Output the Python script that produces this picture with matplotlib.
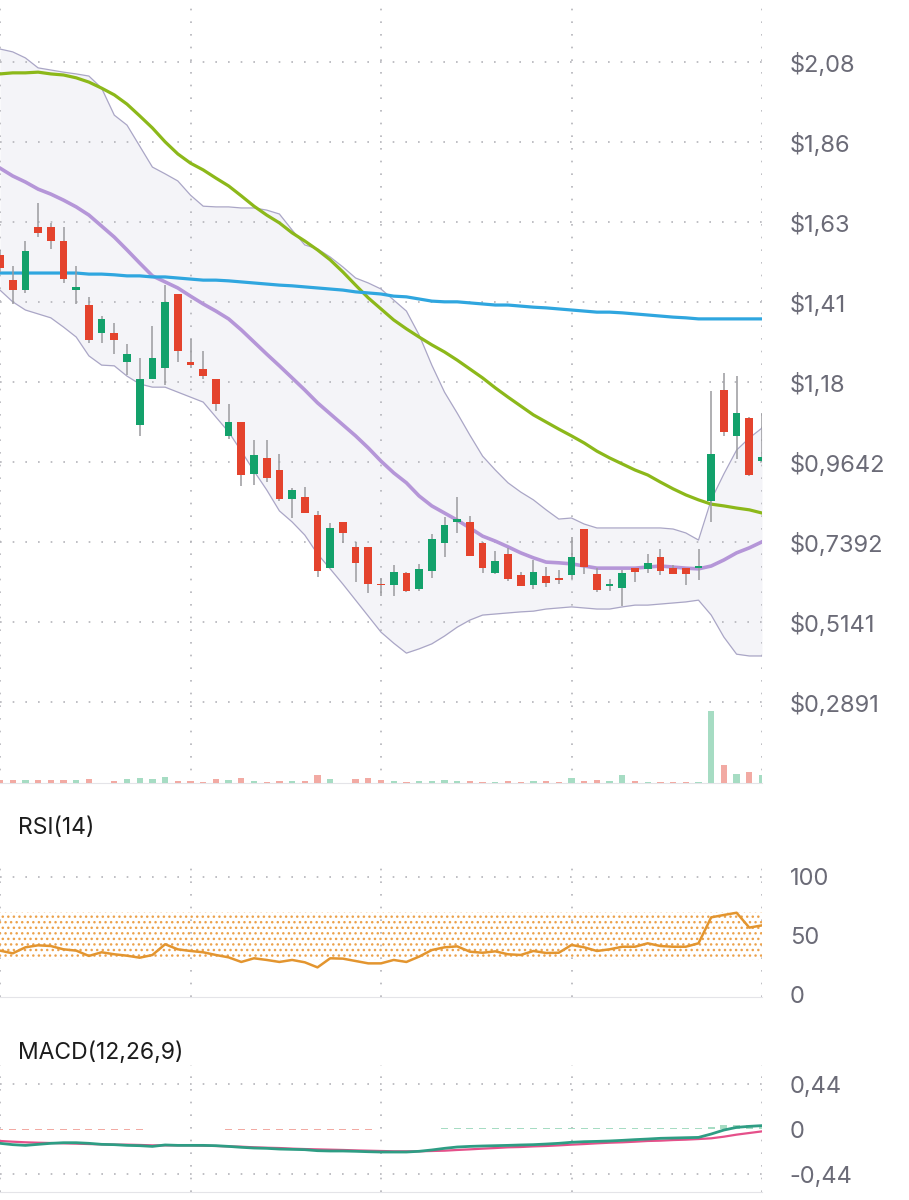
import matplotlib
matplotlib.use("Agg")
import matplotlib.pyplot as plt
import numpy as np

plt.rcParams['font.family'] = ['Inter', 'DejaVu Sans']
plt.rcParams['hatch.linewidth'] = 1.0

# 蜡烛图数据 (开, 高, 低, 收)
opens  = [1.547, 1.476, 1.448, 1.626, 1.626, 1.586, 1.448, 1.406, 1.327, 1.327,
          1.246, 1.069, 1.198, 1.229, 1.437, 1.246, 1.226, 1.198, 1.038, 1.077,
          0.931, 0.976, 0.942, 0.861, 0.866, 0.816, 0.666, 0.796, 0.726, 0.726,
          0.620, 0.619, 0.652, 0.607, 0.658, 0.737, 0.796, 0.796, 0.737, 0.652,
          0.706, 0.647, 0.619, 0.644, 0.637, 0.647, 0.776, 0.650, 0.617, 0.610,
          0.666, 0.664, 0.697, 0.666, 0.666, 0.666, 0.856, 1.166, 1.038, 1.088,
          0.967]
highs  = [1.561, 1.516, 1.586, 1.693, 1.637, 1.626, 1.516, 1.429, 1.375, 1.356,
          1.296, 1.257, 1.347, 1.462, 1.437, 1.311, 1.277, 1.198, 1.128, 1.077,
          1.026, 1.026, 0.987, 0.891, 0.894, 0.827, 0.793, 0.796, 0.740, 0.726,
          0.638, 0.675, 0.655, 0.678, 0.762, 0.810, 0.866, 0.813, 0.740, 0.714,
          0.723, 0.655, 0.689, 0.669, 0.661, 0.754, 0.776, 0.666, 0.635, 0.661,
          0.666, 0.706, 0.720, 0.675, 0.666, 0.720, 1.164, 1.214, 1.206, 1.092,
          1.102]
lows   = [1.499, 1.409, 1.440, 1.597, 1.564, 1.468, 1.409, 1.299, 1.299, 1.268,
          1.209, 1.038, 1.198, 1.181, 1.246, 1.229, 1.198, 1.108, 1.029, 0.897,
          0.900, 0.908, 0.855, 0.807, 0.821, 0.641, 0.666, 0.737, 0.627, 0.596,
          0.588, 0.588, 0.600, 0.602, 0.638, 0.697, 0.765, 0.700, 0.652, 0.650,
          0.630, 0.616, 0.607, 0.613, 0.621, 0.636, 0.650, 0.600, 0.602, 0.560,
          0.627, 0.652, 0.647, 0.650, 0.619, 0.633, 0.796, 1.038, 0.973, 0.925,
          0.965]
closes = [1.510, 1.448, 1.558, 1.609, 1.586, 1.479, 1.457, 1.308, 1.367, 1.308,
          1.268, 1.198, 1.257, 1.415, 1.277, 1.237, 1.206, 1.128, 1.077, 0.928,
          0.984, 0.920, 0.861, 0.886, 0.821, 0.658, 0.779, 0.765, 0.681, 0.621,
          0.618, 0.655, 0.602, 0.664, 0.748, 0.787, 0.804, 0.700, 0.666, 0.686,
          0.636, 0.616, 0.655, 0.624, 0.634, 0.697, 0.669, 0.605, 0.620, 0.652,
          0.655, 0.681, 0.658, 0.650, 0.650, 0.672, 0.987, 1.049, 1.101, 0.928,
          0.979]

# 成交量
volume = [3.3, 2.7, 3.3, 3.0, 2.7, 2.7, 2.7, 3.7, 0.3, 2.3,
          3.7, 5.0, 3.7, 5.7, 2.3, 2.0, 1.0, 3.7, 2.7, 5.0,
          2.3, 1.0, 2.0, 1.7, 1.7, 8.0, 4.3, 0.3, 3.7, 5.3,
          2.7, 2.0, 1.3, 2.0, 2.3, 2.7, 2.0, 2.3, 1.3, 1.3,
          1.7, 1.3, 2.0, 2.0, 1.0, 4.7, 2.3, 2.7, 2.3, 8.0,
          1.7, 1.3, 1.3, 0.7, 0.7, 1.3, 72.0, 17.7, 9.3, 11.0,
          8.0]

# 布林带 + 均线
bb_upper = [2.126, 2.118, 2.101, 2.073, 2.067, 2.061, 2.056, 2.050, 2.016, 1.940,
            1.912, 1.853, 1.794, 1.775, 1.755, 1.715, 1.684, 1.682, 1.682, 1.679,
            1.679, 1.673, 1.662, 1.617, 1.575, 1.564, 1.541, 1.513, 1.482, 1.468,
            1.451, 1.420, 1.389, 1.322, 1.237, 1.161, 1.102, 1.040, 0.981, 0.942,
            0.906, 0.880, 0.858, 0.830, 0.804, 0.807, 0.790, 0.779, 0.779, 0.779,
            0.779, 0.779, 0.779, 0.776, 0.765, 0.745, 0.858, 0.931, 0.998, 1.032,
            1.060]
bb_mid   = [1.791, 1.769, 1.752, 1.732, 1.718, 1.701, 1.682, 1.659, 1.628, 1.597,
            1.561, 1.524, 1.488, 1.471, 1.454, 1.431, 1.409, 1.389, 1.367, 1.336,
            1.302, 1.268, 1.235, 1.201, 1.167, 1.131, 1.100, 1.069, 1.038, 1.004,
            0.967, 0.934, 0.906, 0.869, 0.841, 0.821, 0.801, 0.779, 0.756, 0.742,
            0.726, 0.709, 0.695, 0.683, 0.681, 0.678, 0.672, 0.666, 0.666, 0.666,
            0.666, 0.669, 0.672, 0.669, 0.666, 0.664, 0.672, 0.689, 0.709, 0.723,
            0.740]
bb_lower = [1.448, 1.415, 1.392, 1.381, 1.370, 1.344, 1.316, 1.263, 1.237, 1.235,
            1.206, 1.184, 1.175, 1.175, 1.161, 1.147, 1.133, 1.091, 1.049, 0.995,
            0.939, 0.886, 0.827, 0.796, 0.759, 0.706, 0.664, 0.621, 0.576, 0.531,
            0.486, 0.455, 0.427, 0.439, 0.453, 0.475, 0.500, 0.520, 0.534, 0.537,
            0.540, 0.543, 0.545, 0.551, 0.554, 0.557, 0.554, 0.551, 0.551, 0.557,
            0.562, 0.562, 0.565, 0.568, 0.571, 0.576, 0.534, 0.472, 0.424, 0.419,
            0.419]
ma50     = [2.056, 2.059, 2.059, 2.061, 2.056, 2.053, 2.045, 2.033, 2.016, 1.997,
            1.971, 1.938, 1.904, 1.865, 1.831, 1.805, 1.786, 1.763, 1.741, 1.713,
            1.684, 1.659, 1.637, 1.609, 1.586, 1.561, 1.533, 1.499, 1.462, 1.426,
            1.395, 1.364, 1.339, 1.316, 1.294, 1.274, 1.251, 1.226, 1.201, 1.173,
            1.147, 1.122, 1.097, 1.077, 1.057, 1.038, 1.018, 0.995, 0.976, 0.959,
            0.942, 0.928, 0.908, 0.889, 0.872, 0.858, 0.846, 0.841, 0.835, 0.830,
            0.821]
ma200    = [1.496, 1.496, 1.496, 1.496, 1.496, 1.496, 1.496, 1.493, 1.493, 1.491,
            1.488, 1.488, 1.485, 1.485, 1.482, 1.479, 1.476, 1.476, 1.474, 1.471,
            1.468, 1.465, 1.462, 1.460, 1.457, 1.454, 1.451, 1.448, 1.443, 1.440,
            1.437, 1.431, 1.429, 1.423, 1.417, 1.415, 1.415, 1.412, 1.409, 1.406,
            1.406, 1.403, 1.400, 1.398, 1.395, 1.392, 1.389, 1.386, 1.386, 1.384,
            1.381, 1.378, 1.375, 1.372, 1.370, 1.367, 1.367, 1.367, 1.367, 1.367,
            1.367]

# RSI(14)
rsi = [37.6, 35.3, 40.4, 42.1, 41.5, 38.7, 37.6, 33.1, 36.2, 34.5,
       33.3, 31.6, 33.9, 43.0, 38.7, 37.3, 36.2, 33.9, 31.9, 28.0,
       31.1, 29.7, 28.0, 29.7, 27.7, 23.4, 31.1, 30.8, 28.8, 26.8,
       26.8, 29.7, 28.0, 32.5, 38.1, 40.4, 41.2, 36.7, 35.8, 37.0,
       34.5, 33.9, 37.3, 35.6, 35.8, 42.4, 40.4, 37.3, 38.7, 40.9,
       40.9, 43.8, 41.5, 40.9, 40.9, 43.8, 65.8, 67.8, 69.7, 57.1,
       59.0]

# MACD(12,26,9)
macd = [-0.140, -0.153, -0.160, -0.150, -0.140, -0.134, -0.134, -0.140, -0.150, -0.153,
        -0.160, -0.163, -0.170, -0.156, -0.160, -0.160, -0.160, -0.163, -0.170, -0.179,
        -0.186, -0.189, -0.196, -0.199, -0.202, -0.212, -0.215, -0.215, -0.218, -0.222,
        -0.225, -0.225, -0.225, -0.218, -0.205, -0.189, -0.176, -0.170, -0.166, -0.163,
        -0.160, -0.156, -0.153, -0.147, -0.140, -0.130, -0.124, -0.121, -0.117, -0.111,
        -0.104, -0.098, -0.091, -0.088, -0.085, -0.082, -0.049, -0.010, 0.016, 0.026,
        0.033]
signal = [-0.117, -0.124, -0.130, -0.134, -0.137, -0.140, -0.143, -0.147, -0.150, -0.153,
          -0.153, -0.156, -0.160, -0.160, -0.160, -0.160, -0.163, -0.166, -0.170, -0.173,
          -0.179, -0.183, -0.186, -0.192, -0.196, -0.199, -0.202, -0.205, -0.209, -0.212,
          -0.215, -0.218, -0.218, -0.218, -0.215, -0.212, -0.205, -0.199, -0.192, -0.186,
          -0.179, -0.176, -0.170, -0.166, -0.160, -0.153, -0.147, -0.140, -0.134, -0.130,
          -0.124, -0.117, -0.114, -0.108, -0.104, -0.098, -0.091, -0.075, -0.055, -0.039,
          -0.023]
hist = [-0.008, -0.009, -0.009, -0.008, -0.007, -0.006, -0.006, -0.006, -0.006, -0.005,
        -0.005, -0.005, -0.004, -0.002, -0.001, -0.001, -0.002, -0.004, -0.005, -0.006,
        -0.006, -0.007, -0.007, -0.007, -0.007, -0.007, -0.007, -0.006, -0.006, -0.005,
        -0.004, -0.003, -0.002, -0.001, 0.003, 0.007, 0.012, 0.013, 0.012, 0.011,
        0.011, 0.010, 0.010, 0.010, 0.010, 0.009, 0.009, 0.009, 0.009, 0.008,
        0.008, 0.008, 0.008, 0.008, 0.008, 0.009, 0.022, 0.035, 0.040, 0.036,
        0.032]

price_ticks = [2.0895, 1.8644, 1.6394, 1.4143, 1.1893, 0.9642, 0.7392, 0.5141, 0.2891]
price_labels = ["$2,08", "$1,86", "$1,63", "$1,41", "$1,18", "$0,9642", "$0,7392", "$0,5141", "$0,2891"]
rsi_ticks = [100, 50, 0]
rsi_labels = ["100", "50", "0"]
macd_ticks = [0.44, 0, -0.44]
macd_labels = ["0,44", "0", "-0,44"]
grid_x = [0, 15, 30, 45, 60]

# 颜色
UP = "#13a16b"
DOWN = "#e4432d"
UP_VOL = "#a6dcc3"
DOWN_VOL = "#f2aaa3"
GRID = "#b4b4ba"
LABEL = "#6b6b77"
DOTS = (0, (1, 6.6))

opens = np.array(opens)
closes = np.array(closes)
x = np.arange(len(closes))
up = closes >= opens

fig = plt.figure(figsize=(9.09, 12), dpi=100)
W = 762 / 909


def style_axes(ax):
    for s in ["top", "left", "right"]:
        ax.spines[s].set_visible(False)
    ax.spines["bottom"].set_color("#e4e4e8")
    ax.set_xlim(0, 60)
    ax.set_xticks(grid_x)
    ax.tick_params(axis="x", length=0, labelbottom=False)
    ax.yaxis.tick_right()
    ax.tick_params(axis="y", length=0, pad=20, labelsize=17, labelcolor=LABEL)
    ax.grid(axis="x", color=GRID, linestyle=DOTS, linewidth=1.2)
    ax.set_axisbelow(True)


# 1, 价格面板
ax = fig.add_axes([0, 1 - 783 / 1200, W, 783 / 1200])

# 成交量 (twinx 会把主轴刻度放回左边, 所以先建它)
axv = ax.twinx()
axv.set_xlim(0, 60)
axv.set_ylim(0, max(volume) * 10.9)
axv.bar(x, volume, width=0.5, color=np.where(up, UP_VOL, DOWN_VOL), zorder=1)
axv.axis("off")

style_axes(ax)
ax.set_ylim(0.0617, 2.2639)
ax.set_yticks(price_ticks, price_labels)
ax.grid(axis="y", color=GRID, linestyle=DOTS, linewidth=1.2)

ax.fill_between(x, bb_lower, bb_upper, color="#f4f4f8", zorder=0.3, linewidth=0)
ax.plot(x, bb_upper, color="#aaa6c6", lw=0.9, zorder=2)
ax.plot(x, bb_lower, color="#aaa6c6", lw=0.9, zorder=2)
ax.plot(x, bb_mid, color="#b596d8", lw=2.6, zorder=2.2)
ax.plot(x, ma50, color="#8cb81a", lw=2.3, zorder=2.3)
ax.plot(x, ma200, color="#2fa6df", lw=2.3, zorder=2.3)

# 蜡烛
body = np.maximum(np.abs(closes - opens), 0.004)
ax.vlines(x, lows, highs, color="#9a9a9e", lw=1.1, zorder=4)
ax.bar(x, body, bottom=np.minimum(opens, closes), width=0.6,
       color=np.where(up, UP, DOWN), zorder=5)

# 2, RSI面板
fig.text(18 / 909, 1 - 828 / 1200, "RSI(14)", fontsize=16.5, va="center", color="#1c1c1c")
axr = fig.add_axes([0, 1 - 997 / 1200, W, 135 / 1200])
style_axes(axr)
axr.set_ylim(-1.7, 112.7)
axr.set_yticks(rsi_ticks, rsi_labels)
axr.axhline(100, color=GRID, linestyle=DOTS, linewidth=1.2, zorder=0.5)
axr.axhspan(30, 70, facecolor="none", edgecolor="#eca24c", hatch="...", linewidth=0, zorder=0.6)
axr.plot(x, rsi, color="#e3952f", lw=1.8, zorder=3)

# 3, MACD面板
fig.text(18 / 909, 1 - 1053 / 1200, "MACD(12,26,9)", fontsize=16.5, va="center", color="#1c1c1c")
axm = fig.add_axes([0, 1 - 1192 / 1200, W, 127 / 1200])
style_axes(axm)
axm.set_ylim(-0.616, 0.626)
axm.set_yticks(macd_ticks, macd_labels)
for lvl in (0.44, -0.44):
    axm.axhline(lvl, color=GRID, linestyle=DOTS, linewidth=1.2, zorder=0.5)
hist = np.array(hist)
axm.bar(x, hist, width=0.55, color=np.where(hist >= 0, UP_VOL, DOWN_VOL), zorder=1)
axm.plot(x, signal, color="#e5508a", lw=1.6, zorder=3)
axm.plot(x, macd, color="#2e9d84", lw=2.0, zorder=3.1)

fig.savefig("out.png", dpi=100)
